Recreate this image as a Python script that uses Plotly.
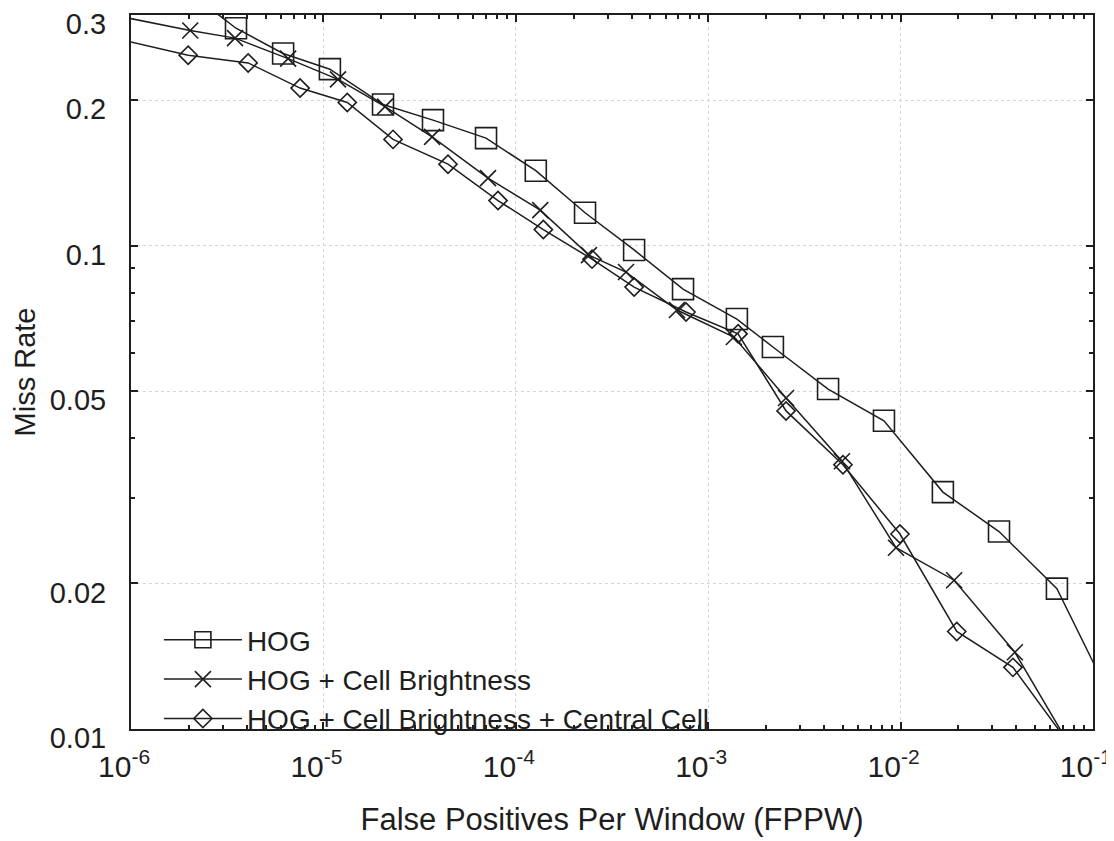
import math
import plotly.graph_objects as go

# values (log-log DET curves)
hog_fppw = [2.0e-6, 3.51e-6, 6.17e-6, 1.08e-5, 2.04e-5, 3.71e-5, 7.0e-5, 1.27e-4, 2.29e-4,
            4.12e-4, 7.40e-4, 1.41e-3, 2.17e-3, 4.20e-3, 8.20e-3, 1.66e-2, 3.25e-2, 6.50e-2, 1.23e-1]
hog_miss = [0.335, 0.282, 0.250, 0.232, 0.196, 0.182, 0.167, 0.143, 0.117,
            0.098, 0.0813, 0.0705, 0.0617, 0.0505, 0.0434, 0.0309, 0.0256, 0.0195, 0.01165]

cell_fppw = [6.9e-7, 2.03e-6, 3.47e-6, 6.55e-6, 1.19e-5, 2.09e-5, 3.67e-5, 7.17e-5, 1.34e-4, 2.40e-4,
             3.74e-4, 6.88e-4, 1.36e-3, 2.54e-3, 4.96e-3, 9.47e-3, 1.90e-2, 3.93e-2, 8.56e-2]
cell_miss = [0.304, 0.279, 0.269, 0.244, 0.221, 0.194, 0.168, 0.138, 0.1185, 0.0956,
             0.0882, 0.0736, 0.0647, 0.0484, 0.0358, 0.0237, 0.0203, 0.0144, 0.0085]

central_fppw = [6.9e-7, 1.98e-6, 4.06e-6, 7.56e-6, 1.33e-5, 2.30e-5, 4.44e-5, 8.08e-5, 1.39e-4, 2.49e-4,
                4.12e-4, 7.67e-4, 1.43e-3, 2.54e-3, 5.02e-3, 9.93e-3, 1.96e-2, 3.84e-2, 8.56e-2]
central_miss = [0.273, 0.248, 0.239, 0.212, 0.198, 0.166, 0.1475, 0.124, 0.108, 0.0938,
                0.0821, 0.0729, 0.0657, 0.0455, 0.0352, 0.0253, 0.0159, 0.0134, 0.00867]

x_ticks = [1e-6, 1e-5, 1e-4, 1e-3, 1e-2, 1e-1]
x_labels = ["10<sup>-6</sup>", "10<sup>-5</sup>", "10<sup>-4</sup>", "10<sup>-3</sup>",
            "10<sup>-2</sup>", "10<sup>-1</sup>"]
y_ticks = [0.01, 0.02, 0.05, 0.1, 0.2, 0.3]
y_labels = ["0.01", "0.02", "0.05", "0.1", "0.2", "0.3"]

ink = "#1e1e1e"
fnt = "Liberation Sans, Arial, sans-serif"

fig = go.Figure()

series = [
    ("HOG", hog_fppw, hog_miss, "square-open", 21),
    ("HOG + Cell Brightness", cell_fppw, cell_miss, "x-thin-open", 16),
    ("HOG + Cell Brightness + Central Cell", central_fppw, central_miss, "diamond-open", 14),
]
for name, xs, ys, sym, sz in series:
    fig.add_trace(go.Scatter(
        x=xs, y=ys, name=name, mode="lines+markers",
        line=dict(color=ink, width=1.5),
        marker=dict(symbol=sym, size=sz, color=ink, line=dict(color=ink, width=1.6)),
    ))

minor_x = [m * 10.0 ** e for e in range(-6, -1) for m in range(2, 10)]
minor_y = [m * 10.0 ** e for e in (-2, -1) for m in range(2, 10)]

fig.update_xaxes(
    type="log", range=[-6.0005, -0.9995],
    tickmode="array", tickvals=x_ticks, ticktext=x_labels,
    ticks="inside", ticklen=7, tickcolor=ink, tickwidth=1.5,
    showline=True, linecolor=ink, linewidth=2, mirror="ticks",
    showgrid=True, gridcolor="#d4d4d4", griddash="dot", gridwidth=1,
    zeroline=False,
    minor=dict(tickmode="array", tickvals=minor_x, ticks="inside", ticklen=4,
               tickcolor=ink, showgrid=False),
    tickfont=dict(family=fnt, size=30, color=ink),
    ticklabelstandoff=10, ticklabelshift=-7, ticklabeloverflow="allow",
    title=dict(text="False Positives Per Window (FPPW)",
               font=dict(family=fnt, size=31, color=ink), standoff=26),
)
fig.update_yaxes(
    type="log", range=[-2.0005, math.log10(0.3) + 0.0005],
    tickmode="array", tickvals=y_ticks, ticktext=y_labels,
    ticks="inside", ticklen=7, tickcolor=ink, tickwidth=1.5,
    showline=True, linecolor=ink, linewidth=2, mirror="ticks",
    showgrid=True, gridcolor="#d4d4d4", griddash="dot", gridwidth=1,
    zeroline=False,
    minor=dict(tickmode="array", tickvals=minor_y, ticks="inside", ticklen=4,
               tickcolor=ink, showgrid=False),
    tickfont=dict(family=fnt, size=29, color=ink),
    ticklabelstandoff=17, ticklabelshift=9, ticklabeloverflow="allow",
    title=dict(text="Miss Rate", font=dict(family=fnt, size=29, color=ink), standoff=6),
)

# white panel under the legend, between grid and curves, so the grid stops there
fig.add_shape(type="rect", xref="paper", yref="paper",
              x0=0.02, x1=0.66, y0=0.0, y1=0.152,
              fillcolor="white", line=dict(width=0), layer="between")

# the page body adds an 8px offset, so the figure is drawn 8px smaller
fig.update_layout(
    width=1106, height=833,
    margin=dict(l=123, r=21, t=7, b=112, autoexpand=False),
    paper_bgcolor="white", plot_bgcolor="white",
    showlegend=True,
    legend=dict(x=0.029, y=-0.021, xanchor="left", yanchor="bottom",
                bgcolor="rgba(0,0,0,0)", borderwidth=0, itemwidth=78,
                font=dict(family=fnt, size=28, color=ink),
                tracegroupgap=0),
)

fig.write_html("out.html")
